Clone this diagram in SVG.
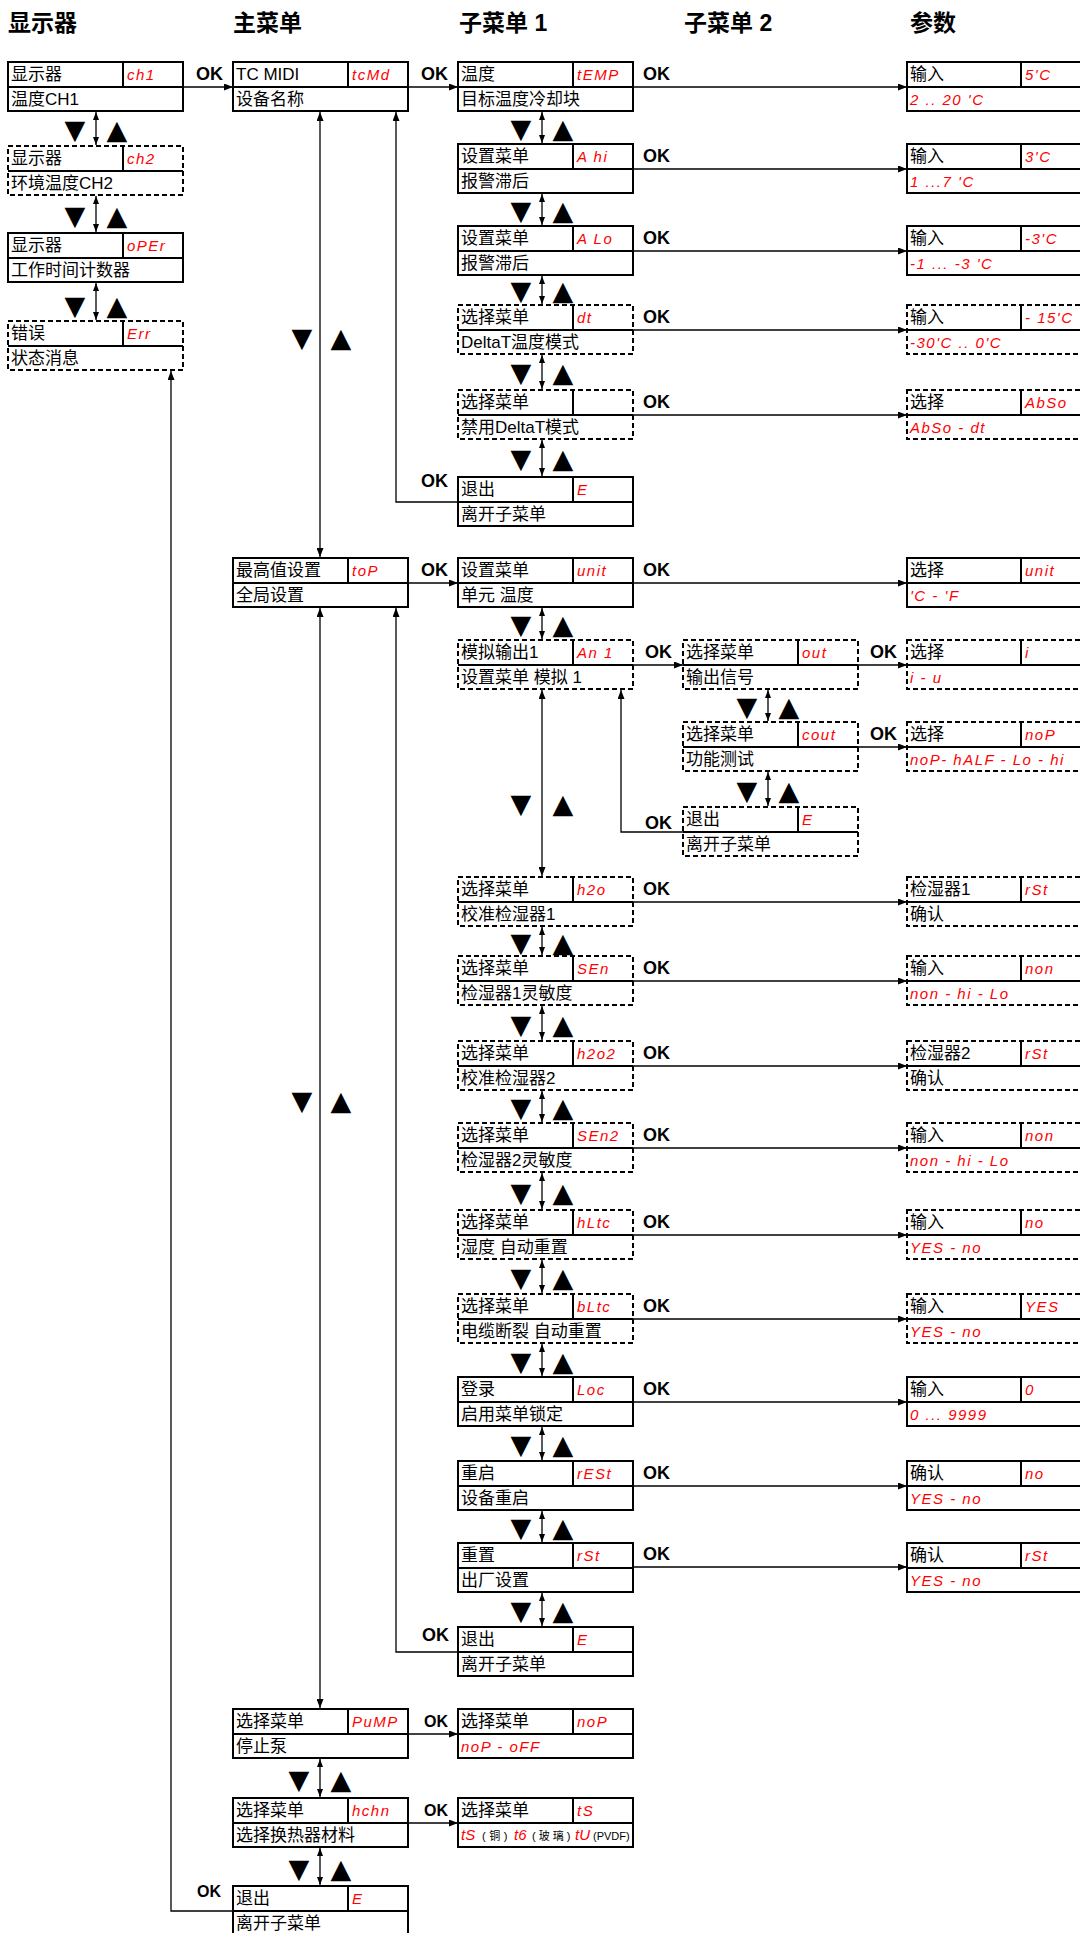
<svg xmlns="http://www.w3.org/2000/svg" width="1080" height="1933" viewBox="0 0 1080 1933">
<defs>
<marker id="ah" viewBox="0 0 9 7" refX="9" refY="3.5" markerWidth="9" markerHeight="7" markerUnits="userSpaceOnUse" orient="auto-start-reverse"><path d="M0,0L9,3.5L0,7z" fill="#000"/></marker>
<marker id="as" viewBox="0 0 8 6" refX="8" refY="3" markerWidth="8" markerHeight="6" markerUnits="userSpaceOnUse" orient="auto-start-reverse"><path d="M0,0L8,3L0,6z" fill="#000"/></marker>
</defs>
<style>
.bx{fill:#fff;stroke:#000;stroke-width:2}
.ds{stroke-dasharray:5 3}
.dv{fill:none;stroke:#000;stroke-width:2}
.t{font-family:"Liberation Sans","Noto Sans CJK SC",sans-serif;font-size:17px;fill:#000}
.r{font-family:"Liberation Sans",sans-serif;font-style:italic;font-size:15px;fill:#f00;letter-spacing:1.5px}
.sm{font-family:"Liberation Sans","Noto Sans CJK SC",sans-serif;font-size:11px;fill:#000}
.ok{font-family:"Liberation Sans","Noto Sans CJK SC",sans-serif;font-weight:bold;font-size:18px;fill:#000}
.ttl{font-family:"Liberation Sans","Noto Sans CJK SC",sans-serif;font-weight:bold;font-size:23px;fill:#000}
.c{fill:none;stroke:#000;stroke-width:1.3}
.a{marker-end:url(#ah)}
.aa{marker-start:url(#as);marker-end:url(#as)}
.nv{font-family:"DejaVu Sans",sans-serif;font-size:27px;fill:#000;text-anchor:middle}
</style>
<rect width="1080" height="1933" fill="#fff"/>

<g id="titles">
<text class="ttl" x="8" y="31">显示器</text>
<text class="ttl" x="233" y="31">主菜单</text>
<text class="ttl" x="459" y="31">子菜单 1</text>
<text class="ttl" x="684" y="31">子菜单 2</text>
<text class="ttl" x="910" y="31">参数</text>
</g>

<g id="connectors">
<path class="c a" d="M183,87H233"/>
<path class="c a" d="M408,87H458"/>
<path class="c a" d="M632,87H907"/>
<path class="c a" d="M632,169H907"/>
<path class="c a" d="M632,251H907"/>
<path class="c a" d="M632,330H907"/>
<path class="c a" d="M632,415H907"/>
<path class="c a" d="M408,583H458"/>
<path class="c a" d="M632,583H907"/>
<path class="c a" d="M632,665H683"/>
<path class="c a" d="M857,665H907"/>
<path class="c a" d="M857,747H907"/>
<path class="c a" d="M683,832H621V690"/>
<path class="c a" d="M632,902H907"/>
<path class="c a" d="M632,981H907"/>
<path class="c a" d="M632,1066H907"/>
<path class="c a" d="M632,1148H907"/>
<path class="c a" d="M632,1235H907"/>
<path class="c a" d="M632,1319H907"/>
<path class="c a" d="M632,1402H907"/>
<path class="c a" d="M632,1486H907"/>
<path class="c a" d="M632,1567H907"/>
<path class="c a" d="M458,502H396V112"/>
<path class="c a" d="M458,1652H396V608"/>
<path class="c a" d="M408,1734H458"/>
<path class="c a" d="M408,1823H458"/>
<path class="c a" d="M233,1911H171V371"/>
<path class="c" d="M320,112V557" marker-start="url(#ah)" marker-end="url(#ah)"/>
<path class="c" d="M320,608V1708" marker-start="url(#ah)" marker-end="url(#ah)"/>
<path class="c" d="M542,690V876" marker-start="url(#ah)" marker-end="url(#ah)"/>
<path class="c aa" d="M320,1759V1797"/>
<path class="c aa" d="M320,1848V1885"/>
<path class="c aa" d="M96,112V145"/>
<path class="c aa" d="M96,196V232"/>
<path class="c aa" d="M96,283V320"/>
<path class="c aa" d="M542,112V143"/>
<path class="c aa" d="M542,194V225"/>
<path class="c aa" d="M542,276V304"/>
<path class="c aa" d="M542,355V389"/>
<path class="c aa" d="M542,440V476"/>
<path class="c aa" d="M542,608V639"/>
<path class="c aa" d="M542,927V955"/>
<path class="c aa" d="M542,1006V1040"/>
<path class="c aa" d="M542,1091V1122"/>
<path class="c aa" d="M542,1173V1209"/>
<path class="c aa" d="M542,1260V1293"/>
<path class="c aa" d="M542,1344V1376"/>
<path class="c aa" d="M542,1427V1460"/>
<path class="c aa" d="M542,1511V1542"/>
<path class="c aa" d="M542,1593V1626"/>
<path class="c aa" d="M768,690V721"/>
<path class="c aa" d="M768,772V806"/>
<text class="ok" x="196" y="80">OK</text>
<text class="ok" x="421" y="80">OK</text>
<text class="ok" x="643" y="80">OK</text>
<text class="ok" x="643" y="162">OK</text>
<text class="ok" x="643" y="244">OK</text>
<text class="ok" x="643" y="323">OK</text>
<text class="ok" x="643" y="408">OK</text>
<text class="ok" x="421" y="487">OK</text>
<text class="ok" x="421" y="576">OK</text>
<text class="ok" x="643" y="576">OK</text>
<text class="ok" x="645" y="658">OK</text>
<text class="ok" x="870" y="658">OK</text>
<text class="ok" x="870" y="740">OK</text>
<text class="ok" x="645" y="829">OK</text>
<text class="ok" x="643" y="895">OK</text>
<text class="ok" x="643" y="974">OK</text>
<text class="ok" x="643" y="1059">OK</text>
<text class="ok" x="643" y="1141">OK</text>
<text class="ok" x="643" y="1228">OK</text>
<text class="ok" x="643" y="1312">OK</text>
<text class="ok" x="643" y="1395">OK</text>
<text class="ok" x="643" y="1479">OK</text>
<text class="ok" x="643" y="1560">OK</text>
<text class="ok" x="422" y="1641">OK</text>
<text class="ok" x="424" y="1727" style="font-size:16px">OK</text>
<text class="ok" x="424" y="1816" style="font-size:16px">OK</text>
<text class="ok" x="197" y="1897" style="font-size:16px">OK</text>
</g>

<g id="nav">
<text class="nv" x="75" y="139">▼</text><text class="nv" x="117" y="139">▲</text>
<text class="nv" x="75" y="225">▼</text><text class="nv" x="117" y="225">▲</text>
<text class="nv" x="75" y="315">▼</text><text class="nv" x="117" y="315">▲</text>
<text class="nv" x="302" y="347">▼</text><text class="nv" x="341" y="347">▲</text>
<text class="nv" x="302" y="1110">▼</text><text class="nv" x="341" y="1110">▲</text>
<text class="nv" x="299" y="1789">▼</text><text class="nv" x="341" y="1789">▲</text>
<text class="nv" x="299" y="1878">▼</text><text class="nv" x="341" y="1878">▲</text>
<text class="nv" x="521" y="138">▼</text><text class="nv" x="563" y="138">▲</text>
<text class="nv" x="521" y="220">▼</text><text class="nv" x="563" y="220">▲</text>
<text class="nv" x="521" y="300">▼</text><text class="nv" x="563" y="300">▲</text>
<text class="nv" x="521" y="382">▼</text><text class="nv" x="563" y="382">▲</text>
<text class="nv" x="521" y="468">▼</text><text class="nv" x="563" y="468">▲</text>
<text class="nv" x="521" y="634">▼</text><text class="nv" x="563" y="634">▲</text>
<text class="nv" x="521" y="813">▼</text><text class="nv" x="563" y="813">▲</text>
<text class="nv" x="521" y="952">▼</text><text class="nv" x="563" y="952">▲</text>
<text class="nv" x="521" y="1034">▼</text><text class="nv" x="563" y="1034">▲</text>
<text class="nv" x="521" y="1117">▼</text><text class="nv" x="563" y="1117">▲</text>
<text class="nv" x="521" y="1202">▼</text><text class="nv" x="563" y="1202">▲</text>
<text class="nv" x="521" y="1287">▼</text><text class="nv" x="563" y="1287">▲</text>
<text class="nv" x="521" y="1371">▼</text><text class="nv" x="563" y="1371">▲</text>
<text class="nv" x="521" y="1454">▼</text><text class="nv" x="563" y="1454">▲</text>
<text class="nv" x="521" y="1537">▼</text><text class="nv" x="563" y="1537">▲</text>
<text class="nv" x="521" y="1620">▼</text><text class="nv" x="563" y="1620">▲</text>
<text class="nv" x="747" y="716">▼</text><text class="nv" x="789" y="716">▲</text>
<text class="nv" x="747" y="800">▼</text><text class="nv" x="789" y="800">▲</text>
</g>

<!-- Display column -->
<g id="d-ch1" transform="translate(8,62)"><rect class="bx" width="175" height="49"/><path class="dv" d="M0,25H175M115,0V25"/><text class="t" x="3" y="18">显示器</text><text class="r" x="119" y="18">ch1</text><text class="t" x="3" y="43">温度CH1</text></g>
<g id="d-ch2" transform="translate(8,146)"><rect class="bx ds" width="175" height="49"/><path class="dv" d="M0,25H175M115,0V25"/><text class="t" x="3" y="18">显示器</text><text class="r" x="119" y="18">ch2</text><text class="t" x="3" y="43">环境温度CH2</text></g>
<g id="d-oper" transform="translate(8,233)"><rect class="bx" width="175" height="49"/><path class="dv" d="M0,25H175M115,0V25"/><text class="t" x="3" y="18">显示器</text><text class="r" x="119" y="18">oPEr</text><text class="t" x="3" y="43">工作时间计数器</text></g>
<g id="d-err" transform="translate(8,321)"><rect class="bx ds" width="175" height="49"/><path class="dv" d="M0,25H175M115,0V25"/><text class="t" x="3" y="18">错误</text><text class="r" x="119" y="18">Err</text><text class="t" x="3" y="43">状态消息</text></g>

<!-- Main menu -->
<g id="m-tcmd" transform="translate(233,62)"><rect class="bx" width="175" height="49"/><path class="dv" d="M0,25H175M115,0V25"/><text class="t" x="3" y="18">TC MIDI</text><text class="r" x="119" y="18">tcMd</text><text class="t" x="3" y="43">设备名称</text></g>
<g id="m-top" transform="translate(233,558)"><rect class="bx" width="175" height="49"/><path class="dv" d="M0,25H175M115,0V25"/><text class="t" x="3" y="18">最高值设置</text><text class="r" x="119" y="18">toP</text><text class="t" x="3" y="43">全局设置</text></g>
<g id="m-pump" transform="translate(233,1709)"><rect class="bx" width="175" height="49"/><path class="dv" d="M0,25H175M115,0V25"/><text class="t" x="3" y="18">选择菜单</text><text class="r" x="119" y="18">PuMP</text><text class="t" x="3" y="43">停止泵</text></g>
<g id="m-hchn" transform="translate(233,1798)"><rect class="bx" width="175" height="49"/><path class="dv" d="M0,25H175M115,0V25"/><text class="t" x="3" y="18">选择菜单</text><text class="r" x="119" y="18">hchn</text><text class="t" x="3" y="43">选择换热器材料</text></g>
<g id="m-exit" transform="translate(233,1886)"><rect class="bx" width="175" height="49"/><path class="dv" d="M0,25H175M115,0V25"/><text class="t" x="3" y="18">退出</text><text class="r" x="119" y="18">E</text><text class="t" x="3" y="43">离开子菜单</text></g>

<!-- Submenu 1 -->
<g id="s1-temp" transform="translate(458,62)"><rect class="bx" width="175" height="49"/><path class="dv" d="M0,25H175M115,0V25"/><text class="t" x="3" y="18">温度</text><text class="r" x="119" y="18">tEMP</text><text class="t" x="3" y="43">目标温度冷却块</text></g>
<g id="s1-ahi" transform="translate(458,144)"><rect class="bx" width="175" height="49"/><path class="dv" d="M0,25H175M115,0V25"/><text class="t" x="3" y="18">设置菜单</text><text class="r" x="119" y="18">A hi</text><text class="t" x="3" y="43">报警滞后</text></g>
<g id="s1-alo" transform="translate(458,226)"><rect class="bx" width="175" height="49"/><path class="dv" d="M0,25H175M115,0V25"/><text class="t" x="3" y="18">设置菜单</text><text class="r" x="119" y="18">A Lo</text><text class="t" x="3" y="43">报警滞后</text></g>
<g id="s1-dt" transform="translate(458,305)"><rect class="bx ds" width="175" height="49"/><path class="dv" d="M0,25H175M115,0V25"/><text class="t" x="3" y="18">选择菜单</text><text class="r" x="119" y="18">dt</text><text class="t" x="3" y="43">DeltaT温度模式</text></g>
<g id="s1-nodt" transform="translate(458,390)"><rect class="bx ds" width="175" height="49"/><path class="dv" d="M0,25H175M115,0V25"/><text class="t" x="3" y="18">选择菜单</text><text class="t" x="3" y="43">禁用DeltaT模式</text></g>
<g id="s1-exit1" transform="translate(458,477)"><rect class="bx" width="175" height="49"/><path class="dv" d="M0,25H175M115,0V25"/><text class="t" x="3" y="18">退出</text><text class="r" x="119" y="18">E</text><text class="t" x="3" y="43">离开子菜单</text></g>
<g id="s1-unit" transform="translate(458,558)"><rect class="bx" width="175" height="49"/><path class="dv" d="M0,25H175M115,0V25"/><text class="t" x="3" y="18">设置菜单</text><text class="r" x="119" y="18">unit</text><text class="t" x="3" y="43">单元 温度</text></g>
<g id="s1-an1" transform="translate(458,640)"><rect class="bx ds" width="175" height="49"/><path class="dv" d="M0,25H175M115,0V25"/><text class="t" x="3" y="18">模拟输出1</text><text class="r" x="119" y="18">An 1</text><text class="t" x="3" y="43">设置菜单 模拟 1</text></g>
<g id="s1-h2o" transform="translate(458,877)"><rect class="bx ds" width="175" height="49"/><path class="dv" d="M0,25H175M115,0V25"/><text class="t" x="3" y="18">选择菜单</text><text class="r" x="119" y="18">h2o</text><text class="t" x="3" y="43">校准检湿器1</text></g>
<g id="s1-sen" transform="translate(458,956)"><rect class="bx ds" width="175" height="49"/><path class="dv" d="M0,25H175M115,0V25"/><text class="t" x="3" y="18">选择菜单</text><text class="r" x="119" y="18">SEn</text><text class="t" x="3" y="43">检湿器1灵敏度</text></g>
<g id="s1-h2o2" transform="translate(458,1041)"><rect class="bx ds" width="175" height="49"/><path class="dv" d="M0,25H175M115,0V25"/><text class="t" x="3" y="18">选择菜单</text><text class="r" x="119" y="18">h2o2</text><text class="t" x="3" y="43">校准检湿器2</text></g>
<g id="s1-sen2" transform="translate(458,1123)"><rect class="bx ds" width="175" height="49"/><path class="dv" d="M0,25H175M115,0V25"/><text class="t" x="3" y="18">选择菜单</text><text class="r" x="119" y="18">SEn2</text><text class="t" x="3" y="43">检湿器2灵敏度</text></g>
<g id="s1-hltc" transform="translate(458,1210)"><rect class="bx ds" width="175" height="49"/><path class="dv" d="M0,25H175M115,0V25"/><text class="t" x="3" y="18">选择菜单</text><text class="r" x="119" y="18">hLtc</text><text class="t" x="3" y="43">湿度 自动重置</text></g>
<g id="s1-bltc" transform="translate(458,1294)"><rect class="bx ds" width="175" height="49"/><path class="dv" d="M0,25H175M115,0V25"/><text class="t" x="3" y="18">选择菜单</text><text class="r" x="119" y="18">bLtc</text><text class="t" x="3" y="43">电缆断裂 自动重置</text></g>
<g id="s1-loc" transform="translate(458,1377)"><rect class="bx" width="175" height="49"/><path class="dv" d="M0,25H175M115,0V25"/><text class="t" x="3" y="18">登录</text><text class="r" x="119" y="18">Loc</text><text class="t" x="3" y="43">启用菜单锁定</text></g>
<g id="s1-rest" transform="translate(458,1461)"><rect class="bx" width="175" height="49"/><path class="dv" d="M0,25H175M115,0V25"/><text class="t" x="3" y="18">重启</text><text class="r" x="119" y="18">rESt</text><text class="t" x="3" y="43">设备重启</text></g>
<g id="s1-rst" transform="translate(458,1543)"><rect class="bx" width="175" height="49"/><path class="dv" d="M0,25H175M115,0V25"/><text class="t" x="3" y="18">重置</text><text class="r" x="119" y="18">rSt</text><text class="t" x="3" y="43">出厂设置</text></g>
<g id="s1-exit2" transform="translate(458,1627)"><rect class="bx" width="175" height="49"/><path class="dv" d="M0,25H175M115,0V25"/><text class="t" x="3" y="18">退出</text><text class="r" x="119" y="18">E</text><text class="t" x="3" y="43">离开子菜单</text></g>
<g id="s1-nop" transform="translate(458,1709)"><rect class="bx" width="175" height="49"/><path class="dv" d="M0,25H175M115,0V25"/><text class="t" x="3" y="18">选择菜单</text><text class="r" x="119" y="18">noP</text><text class="r" x="3" y="43">noP - oFF</text></g>
<g id="s1-ts" transform="translate(458,1798)"><rect class="bx" width="175" height="49"/><path class="dv" d="M0,25H175M115,0V25"/><text class="t" x="3" y="18">选择菜单</text><text class="r" x="119" y="18">tS</text><text x="3" y="42"><tspan class="r" x="3" style="letter-spacing:0">tS</tspan><tspan class="sm" x="24" style="letter-spacing:3.5px">(铜)</tspan><tspan class="r" x="56" style="letter-spacing:0">t6</tspan><tspan class="sm" x="74" style="letter-spacing:3px">(玻璃)</tspan><tspan class="r" x="117" style="letter-spacing:0">tU</tspan><tspan class="sm" x="135">(PVDF)</tspan></text></g>

<!-- Submenu 2 -->
<g id="s2-out" transform="translate(683,640)"><rect class="bx ds" width="175" height="49"/><path class="dv" d="M0,25H175M115,0V25"/><text class="t" x="3" y="18">选择菜单</text><text class="r" x="119" y="18">out</text><text class="t" x="3" y="43">输出信号</text></g>
<g id="s2-cout" transform="translate(683,722)"><rect class="bx ds" width="175" height="49"/><path class="dv" d="M0,25H175M115,0V25"/><text class="t" x="3" y="18">选择菜单</text><text class="r" x="119" y="18">cout</text><text class="t" x="3" y="43">功能测试</text></g>
<g id="s2-exit" transform="translate(683,807)"><rect class="bx ds" width="175" height="49"/><path class="dv" d="M0,25H175M115,0V25"/><text class="t" x="3" y="18">退出</text><text class="r" x="119" y="18">E</text><text class="t" x="3" y="43">离开子菜单</text></g>

<!-- Parameters -->
<g id="p-temp" transform="translate(907,62)"><rect class="bx" width="185" height="49"/><path class="dv" d="M0,25H185M114,0V25"/><text class="t" x="3" y="18">输入</text><text class="r" x="118" y="18">5'C</text><text class="r" x="3" y="43">2 .. 20 'C</text></g>
<g id="p-ahi" transform="translate(907,144)"><rect class="bx" width="185" height="49"/><path class="dv" d="M0,25H185M114,0V25"/><text class="t" x="3" y="18">输入</text><text class="r" x="118" y="18">3'C</text><text class="r" x="3" y="43">1 ...7 'C</text></g>
<g id="p-alo" transform="translate(907,226)"><rect class="bx" width="185" height="49"/><path class="dv" d="M0,25H185M114,0V25"/><text class="t" x="3" y="18">输入</text><text class="r" x="118" y="18">-3'C</text><text class="r" x="3" y="43">-1 ... -3 'C</text></g>
<g id="p-dt" transform="translate(907,305)"><rect class="bx ds" width="185" height="49"/><path class="dv" d="M0,25H185M114,0V25"/><text class="t" x="3" y="18">输入</text><text class="r" x="118" y="18">- 15'C</text><text class="r" x="3" y="43">-30'C .. 0'C</text></g>
<g id="p-abso" transform="translate(907,390)"><rect class="bx ds" width="185" height="49"/><path class="dv" d="M0,25H185M114,0V25"/><text class="t" x="3" y="18">选择</text><text class="r" x="118" y="18">AbSo</text><text class="r" x="3" y="43">AbSo - dt</text></g>
<g id="p-unit" transform="translate(907,558)"><rect class="bx" width="185" height="49"/><path class="dv" d="M0,25H185M114,0V25"/><text class="t" x="3" y="18">选择</text><text class="r" x="118" y="18">unit</text><text class="r" x="3" y="43">'C - 'F</text></g>
<g id="p-out" transform="translate(907,640)"><rect class="bx ds" width="185" height="49"/><path class="dv" d="M0,25H185M114,0V25"/><text class="t" x="3" y="18">选择</text><text class="r" x="118" y="18">i</text><text class="r" x="3" y="43">i - u</text></g>
<g id="p-cout" transform="translate(907,722)"><rect class="bx ds" width="185" height="49"/><path class="dv" d="M0,25H185M114,0V25"/><text class="t" x="3" y="18">选择</text><text class="r" x="118" y="18">noP</text><text class="r" x="3" y="43">noP- hALF - Lo - hi</text></g>
<g id="p-h2o" transform="translate(907,877)"><rect class="bx ds" width="185" height="49"/><path class="dv" d="M0,25H185M114,0V25"/><text class="t" x="3" y="18">检湿器1</text><text class="r" x="118" y="18">rSt</text><text class="t" x="3" y="43">确认</text></g>
<g id="p-sen" transform="translate(907,956)"><rect class="bx ds" width="185" height="49"/><path class="dv" d="M0,25H185M114,0V25"/><text class="t" x="3" y="18">输入</text><text class="r" x="118" y="18">non</text><text class="r" x="3" y="43">non - hi - Lo</text></g>
<g id="p-h2o2" transform="translate(907,1041)"><rect class="bx ds" width="185" height="49"/><path class="dv" d="M0,25H185M114,0V25"/><text class="t" x="3" y="18">检湿器2</text><text class="r" x="118" y="18">rSt</text><text class="t" x="3" y="43">确认</text></g>
<g id="p-sen2" transform="translate(907,1123)"><rect class="bx ds" width="185" height="49"/><path class="dv" d="M0,25H185M114,0V25"/><text class="t" x="3" y="18">输入</text><text class="r" x="118" y="18">non</text><text class="r" x="3" y="43">non - hi - Lo</text></g>
<g id="p-hltc" transform="translate(907,1210)"><rect class="bx ds" width="185" height="49"/><path class="dv" d="M0,25H185M114,0V25"/><text class="t" x="3" y="18">输入</text><text class="r" x="118" y="18">no</text><text class="r" x="3" y="43">YES - no</text></g>
<g id="p-bltc" transform="translate(907,1294)"><rect class="bx ds" width="185" height="49"/><path class="dv" d="M0,25H185M114,0V25"/><text class="t" x="3" y="18">输入</text><text class="r" x="118" y="18">YES</text><text class="r" x="3" y="43">YES - no</text></g>
<g id="p-loc" transform="translate(907,1377)"><rect class="bx" width="185" height="49"/><path class="dv" d="M0,25H185M114,0V25"/><text class="t" x="3" y="18">输入</text><text class="r" x="118" y="18">0</text><text class="r" x="3" y="43">0 ... 9999</text></g>
<g id="p-rest" transform="translate(907,1461)"><rect class="bx" width="185" height="49"/><path class="dv" d="M0,25H185M114,0V25"/><text class="t" x="3" y="18">确认</text><text class="r" x="118" y="18">no</text><text class="r" x="3" y="43">YES - no</text></g>
<g id="p-rst" transform="translate(907,1543)"><rect class="bx" width="185" height="49"/><path class="dv" d="M0,25H185M114,0V25"/><text class="t" x="3" y="18">确认</text><text class="r" x="118" y="18">rSt</text><text class="r" x="3" y="43">YES - no</text></g>
</svg>
